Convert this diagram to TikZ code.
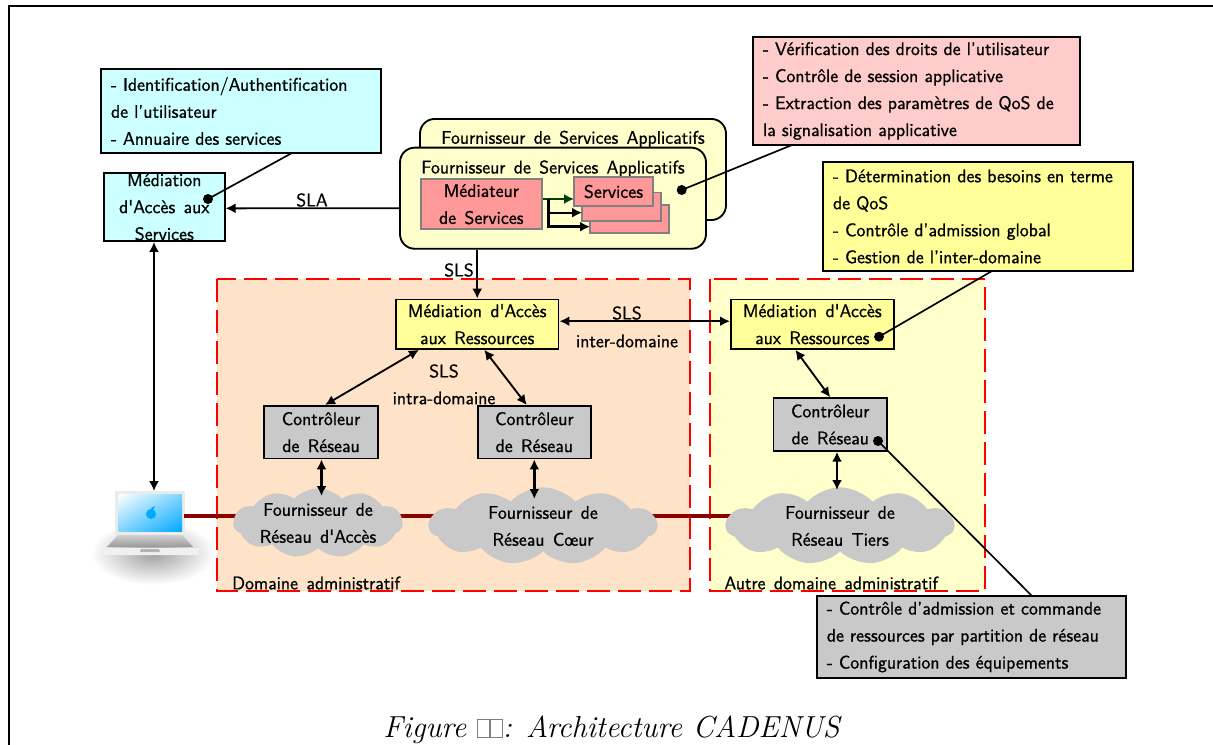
\documentclass[tikz,border=0pt]{standalone}
\usepackage{fontspec}
\usetikzlibrary{arrows.meta,shapes.symbols,shadings}
\newfontfamily\lblfont{Latin Modern Sans}[FakeBold=0.9,WordSpace=1.4]
\newcommand{\lbl}{\lblfont\fontsize{13.7}{20.25}\selectfont}
\newcommand{\nosign}{{\color{gray}\setlength{\fboxrule}{0.4pt}\setlength{\fboxsep}{0pt}\fbox{\rule{0pt}{13pt}\hspace{9pt}}}}

\definecolor{cyanNote}{HTML}{CCFFFF}
\definecolor{pinkNote}{HTML}{FFCCCC}
\definecolor{yellowNote}{HTML}{FFFF99}
\definecolor{paleYellow}{HTML}{FFFFCC}
\definecolor{peachDom}{HTML}{FFE3C9}
\definecolor{greyBox}{HTML}{C9C9C9}
\definecolor{salmonBox}{HTML}{FF9999}
\definecolor{linkRed}{HTML}{8B0000}
\definecolor{arrowGreen}{HTML}{004000}
\definecolor{screenBlue}{HTML}{00A8FF}
\definecolor{screenPale}{HTML}{80D4FF}

\tikzset{every picture/.style={line width=0.75pt}}
\tikzset{
	note/.style={draw, line width=1.4pt, font=\lbl, align=left, inner sep=0pt, minimum height=#1},
	boxed/.style={draw, line width=1.4pt, font=\lbl, align=center, inner sep=0pt},
	svc/.style={draw=gray, line width=1.4pt, fill=salmonBox, font=\lbl, align=center, inner sep=0pt},
	fsa/.style={draw, line width=1.4pt, fill=paleYellow, rounded corners=11pt, minimum width=229.5pt, minimum height=75.8pt},
	adminzone/.style={draw=red, line width=1.5pt, dash pattern=on 17.25pt off 6pt},
	puff/.style={cloud, cloud puffs=11, cloud puff arc=95, cloud ignores aspect, fill=greyBox, font=\lbl, align=center, inner sep=-13pt, minimum width=127pt, minimum height=52pt},
	dot/.style={circle, fill=black, inner sep=0pt, minimum size=7.5pt},
	callout/.style={line width=1.25pt},
	flow/.style={line width=1.4pt, {Latex[length=7.5pt,width=7.5pt]}-{Latex[length=7.5pt,width=7.5pt]}},
	flowto/.style={line width=1.4pt, -{Latex[length=7.5pt,width=7.5pt]}},
	plain/.style={font=\lbl, inner sep=0pt}
}

\begin{document}
\begin{tikzpicture}[x=0.75pt,y=0.75pt,yscale=-1,xscale=1]
	\useasboundingbox (0,0) rectangle (1213,745);

	%Straight Lines
	\coordinate (frameA) at (8.5,745);
	\coordinate (frameB) at (8.5,6.5);
	\coordinate (frameC) at (1213,6.5);
	\draw [line width=1.5pt] (frameA) -- (frameB) -- (frameC);

	%Shape: Rectangle
	\draw [adminzone, fill=peachDom] (217,279) rectangle (689.5,591);
	%Shape: Rectangle
	\draw [adminzone, fill=paleYellow] (710,279) rectangle (985,591);

	%Shape: Laptop
	\shade [inner color=black!38, outer color=white] (153,553) ellipse [x radius=62, y radius=32];
	\fill [black!8] (115,491) rectangle (185,535);
	\shade [upper left=white, upper right=screenPale, lower left=screenPale, lower right=screenBlue] (118.5,494) rectangle (182,531);
	\shade [top color=black!18, bottom color=black!40] (118,535) -- (182,535) -- (193,547) -- (107,547) -- cycle;
	\fill [black!6] (102,548) -- (199.5,548) -- (199,555) -- (103,555) -- cycle;
	\fill [black!30] (141,549) -- (159,549) -- (160,552) -- (140,552) -- cycle;
	\fill [screenBlue] (151,514) circle [radius=5];
	\fill [screenBlue] (151,508) -- (155,506) -- (153,510) -- cycle;
	\coordinate (laptopTop) at (154,491);
	\coordinate (laptopSide) at (184,516);

	%Straight Lines
	\coordinate (linkEnd) at (760,516);
	\draw [linkRed, line width=2.6pt] (laptopSide) -- (linkEnd);

	%Shape: Rectangle
	\draw (241,111) node [note=62.5pt, fill=cyanNote, text width=195pt, minimum width=210pt, inner xsep=7.5pt] (noteAcces) {- Identification/Authentification\\de l’utilisateur\\- Annuaire des services};
	%Shape: Rectangle
	\draw (916.3,91) node [note=81.5pt, fill=pinkNote, text width=230pt, minimum width=245pt, inner xsep=7.5pt] (noteServ) {- Vérification des droits de l’utilisateur\\- Contrôle de session applicative\\- Extraction des paramètres de QoS de\\la signalisation applicative};
	%Shape: Rectangle
	\draw (978,216.5) node [note=81.3pt, fill=yellowNote, text width=217.5pt, minimum width=232.5pt, inner xsep=7.5pt] (noteRess) {- Détermination des besoins en terme\\de QoS\\- Contrôle d’admission global\\- Gestion de l’inter-domaine};
	%Shape: Rectangle
	\draw (971.5,637) node [note=61.7pt, fill=greyBox, text width=217pt, minimum width=232pt, inner xsep=7.5pt] (noteCtrl) {- Contrôle d’admission et commande\\de ressources par partition de réseau\\- Configuration des équipements};

	%Shape: Rectangle
	\draw (164.3,207) node [boxed, fill=cyanNote, minimum width=90.5pt, minimum height=51pt, inner ysep=-2pt] (masBox) {Médiation\\d'Accès aux\\Services};

	%Shape: Rounded Rectangle
	\draw (573,169.5) node [fsa] (fsaBack) {};
	% Text Node
	\draw (573,139) node [plain] (fsaBackLbl) {Fournisseur de Services Applicatifs};
	%Shape: Rounded Rectangle
	\draw (553,198.2) node [fsa] (fsaFront) {};
	% Text Node
	\draw (553,168.7) node [plain] (fsaFrontLbl) {Fournisseur de Services Applicatifs};

	%Shape: Rectangle
	\draw (481.3,204.3) node [svc, minimum width=90.5pt, minimum height=37.5pt] (medServ) {Médiateur\\de Services};
	%Shape: Rectangle
	\draw (629.5,219) node [svc, minimum width=58.8pt, minimum height=21.5pt] (svcBack) {};
	%Shape: Rectangle
	\draw (621.5,206.8) node [svc, minimum width=58.8pt, minimum height=21.5pt] (svcMid) {};
	%Shape: Rectangle
	\draw (613.5,191.5) node [svc, minimum width=58.8pt, minimum height=21.5pt] (svcFront) {Services};

	%Shape: Rectangle
	\draw (477.2,324.2) node [boxed, fill=yellowNote, minimum width=122pt, minimum height=37pt] (marA) {Médiation d'Accès\\aux Ressources};
	%Shape: Rectangle
	\draw (812.3,324.2) node [boxed, fill=yellowNote, minimum width=122pt, minimum height=37pt] (marB) {Médiation d'Accès\\aux Ressources};
	%Shape: Rectangle
	\draw (321,432.2) node [boxed, fill=greyBox, minimum width=85pt, minimum height=39.4pt] (ctrlA) {Contrôleur\\de Réseau};
	%Shape: Rectangle
	\draw (534.3,432.2) node [boxed, fill=greyBox, minimum width=85pt, minimum height=39.4pt] (ctrlB) {Contrôleur\\de Réseau};
	%Shape: Rectangle
	\draw (830.2,424.5) node [boxed, fill=greyBox, minimum width=85pt, minimum height=39.4pt] (ctrlC) {Contrôleur\\de Réseau};

	%Shape: Circle
	\draw (208,199) node [dot] (dotMas) {};
	%Shape: Circle
	\draw (681.7,190) node [dot] (dotFsa) {};
	%Shape: Circle
	\draw (879,336.7) node [dot] (dotMar) {};
	%Shape: Circle
	\draw (878,441) node [dot] (dotCtrl) {};

	%Straight Lines
	\coordinate (tipAcces) at (292,153);
	\coordinate (tipServ) at (792,145);
	\coordinate (tipRess) at (992,271);
	\coordinate (tipCtrl) at (1032,596);
	\draw [callout] (dotMas.center) -- (tipAcces);
	\draw [callout] (dotFsa.center) -- (tipServ);
	\draw [callout] (dotMar.center) -- (tipRess);
	\draw [callout] (dotCtrl.center) -- (tipCtrl);

	%Shape: Cloud
	\draw (318,523) node [puff] (cloudAcces) {Fournisseur de\\Réseau d'Accès};
	%Shape: Cloud
	\draw (543,526) node [puff, minimum width=171pt, minimum height=58pt] (cloudCoeur) {Fournisseur de\\Réseau Cœur};
	%Shape: Cloud
	\draw (840,526) node [puff, minimum width=171pt, minimum height=58pt] (cloudTiers) {Fournisseur de\\Réseau Tiers};

	%Straight Lines
	\draw [flowto] ([yshift=7.5pt]fsaFront.west) -- ([yshift=1pt]masBox.east);
	\draw [flowto] (fsaFront.south -| marA.north) -- (marA.north);
	\draw [flow] ([yshift=-2.25pt]marA.east) -- ([yshift=-2.25pt]marB.west);
	\draw [flow] ([xshift=18pt]marA.south west) -- ([xshift=3pt]ctrlA.north);
	\draw [flow] ([xshift=67pt]marA.south west) -- ([xshift=-5.7pt]ctrlB.north);
	\draw [flow] ([xshift=49pt]marB.south west) -- (ctrlC.north);
	\draw [flow] (masBox.south -| laptopTop) -- (laptopTop);
	\coordinate (topAcces) at (321.5,496);
	\coordinate (topCoeur) at (534.3,499);
	\coordinate (topTiers) at (837,490);
	\draw [flow, line width=2pt] (ctrlA.south -| topAcces) -- (topAcces);
	\draw [flow, line width=2pt] (ctrlB.south -| topCoeur) -- (topCoeur);
	\draw [flow, line width=2pt] (ctrlC.south -| topTiers) -- (topTiers);

	%Straight Lines
	\coordinate (branchServ) at (548.3,199);
	\coordinate (svcTipA) at (574,199);
	\coordinate (svcTipB) at (582,212.7);
	\coordinate (svcTipC) at (590,226.7);
	\draw [flowto, arrowGreen] (medServ.east |- svcTipA) -- (svcTipA);
	\draw [flowto] (branchServ) |- (svcTipB);
	\draw [flowto, line width=2pt] (branchServ) |- (svcTipC);

	% Text Node
	\draw (312,200) node [plain] (lblSla) {SLA};
	% Text Node
	\draw (459,270) node [plain] (lblSlsTop) {SLS};
	% Text Node
	\draw (627,313) node [plain] (lblSlsInter) {SLS};
	% Text Node
	\draw (627,341) node [plain] (lblInter) {inter-domaine};
	% Text Node
	\draw (444,371) node [plain] (lblSlsIntra) {SLS};
	% Text Node
	\draw (444,398) node [plain] (lblIntra) {intra-domaine};
	% Text Node
	\draw (231.7,583) node [plain, anchor=west] (lblDomA) {Domaine administratif};
	% Text Node
	\draw (724,583) node [plain, anchor=west] (lblDomB) {Autre domaine administratif};
	% Text Node
	\draw (611.5,737) node [font=\fontsize{22.8}{27}\selectfont\itshape, inner sep=0pt, anchor=base] (lblCaption) {Figure \nosign\nosign: Architecture CADENUS};
\end{tikzpicture}
\end{document}
